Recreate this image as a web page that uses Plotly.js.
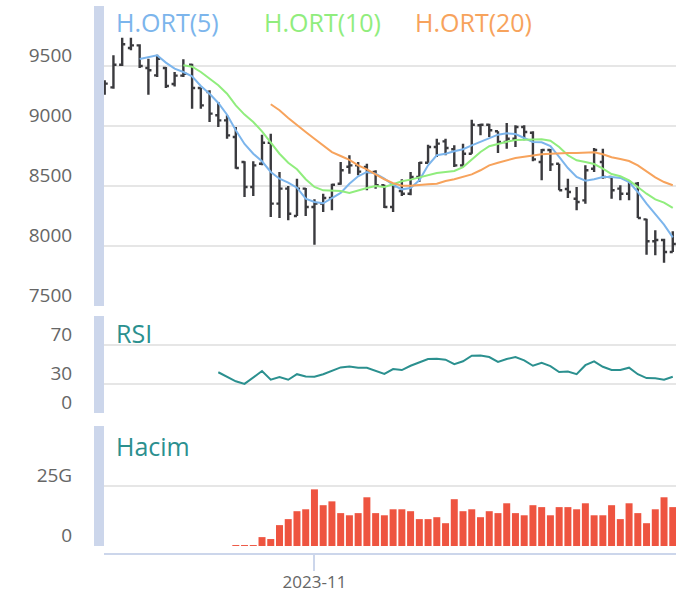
<!DOCTYPE html>
<html><head><meta charset="utf-8">
<script src="https://cdn.plot.ly/plotly-3.0.1.min.js"></script>
<style>html,body{margin:0;padding:0;background:#fff}#chart{width:690px;height:594px}</style>
</head><body><div id="chart"></div>
<script>
const dates = ['2023-09-28','2023-09-29','2023-10-02','2023-10-03','2023-10-04','2023-10-05','2023-10-06',
'2023-10-09','2023-10-10','2023-10-11','2023-10-12','2023-10-13','2023-10-16','2023-10-17','2023-10-18','2023-10-19','2023-10-20',
'2023-10-23','2023-10-24','2023-10-25','2023-10-26','2023-10-27','2023-10-30','2023-10-31',
'2023-11-01','2023-11-02','2023-11-03','2023-11-06','2023-11-07','2023-11-08','2023-11-09','2023-11-10',
'2023-11-13','2023-11-14','2023-11-15','2023-11-16','2023-11-17','2023-11-20','2023-11-21','2023-11-22','2023-11-23','2023-11-24',
'2023-11-27','2023-11-28','2023-11-29','2023-11-30','2023-12-01','2023-12-04','2023-12-05','2023-12-06','2023-12-07','2023-12-08',
'2023-12-11','2023-12-12','2023-12-13','2023-12-14','2023-12-15','2023-12-18','2023-12-19','2023-12-20','2023-12-21','2023-12-22',
'2023-12-25','2023-12-26','2023-12-27','2023-12-28'];

const openP  = [9300,9322,9511,9650,9672,9483,9422,9483,9350,9420,9511,9317,9283,9089,9047,8908,8700,8492,8686,8861,8353,8478,8250,8478,8325,8353,8400,8519,8661,8672,8658,8617,8506,8325,8458,8436,8575,8694,8825,8872,8806,8672,8769,9006,9011,8956,8867,8894,8992,8944,8700,8800,8686,8475,8394,8380,8644,8700,8575,8478,8436,8519,8222,8039,8050,7950];
const highP  = [9381,9589,9736,9736,9681,9561,9594,9492,9450,9556,9519,9317,9297,9200,9089,8992,8706,8706,8928,8936,8617,8500,8561,8483,8389,8436,8519,8700,8756,8700,8686,8631,8511,8506,8556,8617,8700,8844,8894,8894,8839,8853,9053,9019,9019,8956,9025,9006,9006,8956,8808,8808,8686,8561,8492,8672,8817,8811,8575,8506,8547,8533,8228,8131,8061,8122];
const lowP   = [9261,9311,9500,9631,9483,9261,9408,9317,9330,9408,9144,9144,9033,8992,8894,8644,8408,8417,8672,8242,8233,8214,8250,8250,8011,8283,8297,8511,8603,8589,8464,8478,8317,8283,8417,8422,8533,8694,8742,8756,8658,8658,8769,8922,8908,8775,8811,8825,8881,8706,8547,8625,8464,8400,8297,8353,8617,8561,8394,8381,8381,8233,7928,7922,7861,7950];
const closeP = [9353,9511,9681,9672,9500,9464,9561,9333,9420,9436,9317,9172,9103,9047,8922,8650,8492,8672,8861,8353,8478,8269,8478,8325,8353,8400,8511,8631,8672,8620,8617,8506,8325,8500,8436,8575,8694,8825,8853,8817,8672,8769,9011,9011,8964,8867,8894,8992,8950,8722,8800,8680,8464,8450,8367,8631,8800,8575,8464,8436,8519,8233,8039,8050,7950,8017];

const ma5 = [null,null,null,null,9558,9575,9589,9528,9478,9450,9414,9333,9269,9192,9094,8964,8850,8769,8706,8617,8561,8528,8486,8394,8367,8356,8400,8442,8519,8581,8617,8603,8561,8510,8472,8483,8547,8672,8756,8769,8789,8806,8839,8867,8894,8928,8939,8933,8900,8867,8864,8833,8742,8650,8575,8544,8556,8575,8575,8567,8533,8450,8353,8267,8178,8072];
const ma10 = [null,null,null,null,null,null,null,null,null,9506,9494,9450,9394,9339,9269,9172,9095,9033,8956,8858,8769,8694,8639,8556,8492,8464,8464,8458,8442,8464,8483,8500,8492,8514,8539,8553,8572,8594,8608,8617,8625,8658,8722,8783,8831,8853,8869,8883,8883,8883,8889,8878,8825,8756,8714,8700,8683,8644,8600,8581,8547,8492,8436,8389,8361,8317];
const ma20 = [null,null,null,null,null,null,null,null,null,null,null,null,null,null,null,null,null,null,null,9181,9131,9067,9006,8950,8894,8839,8783,8750,8717,8672,8639,8597,8556,8524,8503,8503,8511,8514,8519,8542,8556,8575,8597,8631,8672,8694,8714,8733,8744,8755,8764,8769,8775,8775,8775,8778,8781,8764,8739,8725,8708,8672,8625,8572,8533,8506];

const rsi = [null,null,null,null,null,null,null,null,null,null,null,null,null,42,37.7,32.7,30,36.7,43.3,34.3,37,34.3,40,37.7,37.3,40,43.3,47,48,46.7,46.7,43.3,40.3,45.3,44.3,48.7,52,55.7,56,55,50.3,53.3,59,59.3,57.7,52.7,55.7,57.7,54.3,48.7,51.7,48.3,42.3,42.7,40,49.3,53.3,47.7,44.3,44.3,46.7,40,36,35.7,34.3,37.3];

// volume in billions (G)
const volume = [null,null,null,null,null,null,null,null,null,null,null,null,null,null,null,0.4,0.4,0.4,3.7,2.9,8.7,11.2,14.5,15.3,23.6,17.0,18.6,13.7,12.8,13.7,20.3,13.7,12.8,15.3,15.3,14.5,11.2,11.2,12.0,9.5,19.5,14.5,15.3,12.0,14.5,13.7,17.8,13.7,12.8,17.0,16.2,12.8,16.2,16.2,15.3,17.8,12.8,12.8,17.0,11.2,17.8,13.7,9.5,15.3,20.3,16.2];

const priceTicks = [7500,8000,8500,9000,9500,10000];
const priceTickText = ['7500','8000','8500','9000','9500',''];
const rsiTicks = [0,30,70,100];
const rsiTickText = ['0','30','70',''];
const volTicks = [0,25,50];
const volTickText = ['0','25G',''];
const xTickVals = ['2023-11-01'];
const xTickText = ['2023-11'];
const legendNames = ['H.ORT(5)','H.ORT(10)','H.ORT(20)'];

const FONT = 'Open Sans, sans-serif';
const cBlue='#7cb5ec', cGreen='#90ed7d', cOrange='#f7a35c', cTeal='#2b908f', cBar='#3a3a3e', cVol='#ee5440';

const traces = [
  {type:'ohlc', x:dates, open:openP, high:highP, low:lowP, close:closeP, xaxis:'x', yaxis:'y',
   increasing:{line:{color:cBar,width:2.4}}, decreasing:{line:{color:cBar,width:2.4}}, tickwidth:0.35, showlegend:false, hoverinfo:'skip'},
  {type:'scatter', mode:'lines', x:dates, y:ma5, line:{color:cBlue,width:2}, xaxis:'x', yaxis:'y', showlegend:false, hoverinfo:'skip'},
  {type:'scatter', mode:'lines', x:dates, y:ma10, line:{color:cGreen,width:2}, xaxis:'x', yaxis:'y', showlegend:false, hoverinfo:'skip'},
  {type:'scatter', mode:'lines', x:dates, y:ma20, line:{color:cOrange,width:2}, xaxis:'x', yaxis:'y', showlegend:false, hoverinfo:'skip'},
  {type:'scatter', mode:'lines', x:dates, y:rsi, line:{color:cTeal,width:2}, xaxis:'x', yaxis:'y2', showlegend:false, hoverinfo:'skip'},
  {type:'bar', x:dates, y:volume, marker:{color:cVol,line:{width:0}}, xaxis:'x', yaxis:'y3', showlegend:false, hoverinfo:'skip'}
];

const yCommon = {showline:true, linecolor:'#ccd6eb', linewidth:10, showgrid:true, gridcolor:'#e6e6e6', gridwidth:2,
  zeroline:false, ticks:'', tickfont:{family:FONT,size:19,color:'#666666'}, ticklabelshift:-11, ticklabelstandoff:18,
  anchor:'x', fixedrange:true, automargin:false};

const H = 548;
function dom(topPx, botPx){ return [(554-botPx)/H, (554-topPx)/H]; }

const layout = {
  width:690, height:594, margin:{l:104,r:14,t:6,b:40}, paper_bgcolor:'#ffffff', plot_bgcolor:'#ffffff',
  showlegend:false, bargap:0.2, font:{family:FONT,color:'#666666'},
  xaxis:{type:'category', range:[-0.08,65.37], anchor:'free', position:0, showline:true, linecolor:'#ccd6eb', linewidth:2,
    ticks:'outside', ticklen:16, tickwidth:2, tickcolor:'#ccd6eb', tickvals:xTickVals, ticktext:xTickText,
    tickfont:{family:FONT,size:17,color:'#666666'}, ticklabelstandoff:-3, showgrid:false, zeroline:false, rangeslider:{visible:false}, fixedrange:true, automargin:false},
  yaxis:Object.assign({}, yCommon, {domain:dom(6,306), range:[7500,10000], tickvals:priceTicks, ticktext:priceTickText}),
  yaxis2:Object.assign({}, yCommon, {domain:dom(316,413), range:[0,100], tickvals:rsiTicks, ticktext:rsiTickText}),
  yaxis3:Object.assign({}, yCommon, {domain:dom(426,546), range:[0,50], tickvals:volTicks, ticktext:volTickText}),
  annotations:[
    {xref:'paper', yref:'paper', x:10/572, y:(554-22)/H, xanchor:'left', yanchor:'middle', showarrow:false, text:legendNames[0], font:{family:FONT,size:25,color:cBlue}},
    {xref:'paper', yref:'paper', x:158/572, y:(554-22)/H, xanchor:'left', yanchor:'middle', showarrow:false, text:legendNames[1], font:{family:FONT,size:25,color:cGreen}},
    {xref:'paper', yref:'paper', x:309/572, y:(554-22)/H, xanchor:'left', yanchor:'middle', showarrow:false, text:legendNames[2], font:{family:FONT,size:25,color:cOrange}},
    {xref:'paper', yref:'paper', x:10/572, y:(554-333)/H, xanchor:'left', yanchor:'middle', showarrow:false, text:'RSI', font:{family:FONT,size:25,color:cTeal}},
    {xref:'paper', yref:'paper', x:10/572, y:(554-446)/H, xanchor:'left', yanchor:'middle', showarrow:false, text:'Hacim', font:{family:FONT,size:25,color:cTeal}}
  ]
};

Plotly.newPlot('chart', traces, layout, {staticPlot:true, displayModeBar:false});
</script>
</body></html>
